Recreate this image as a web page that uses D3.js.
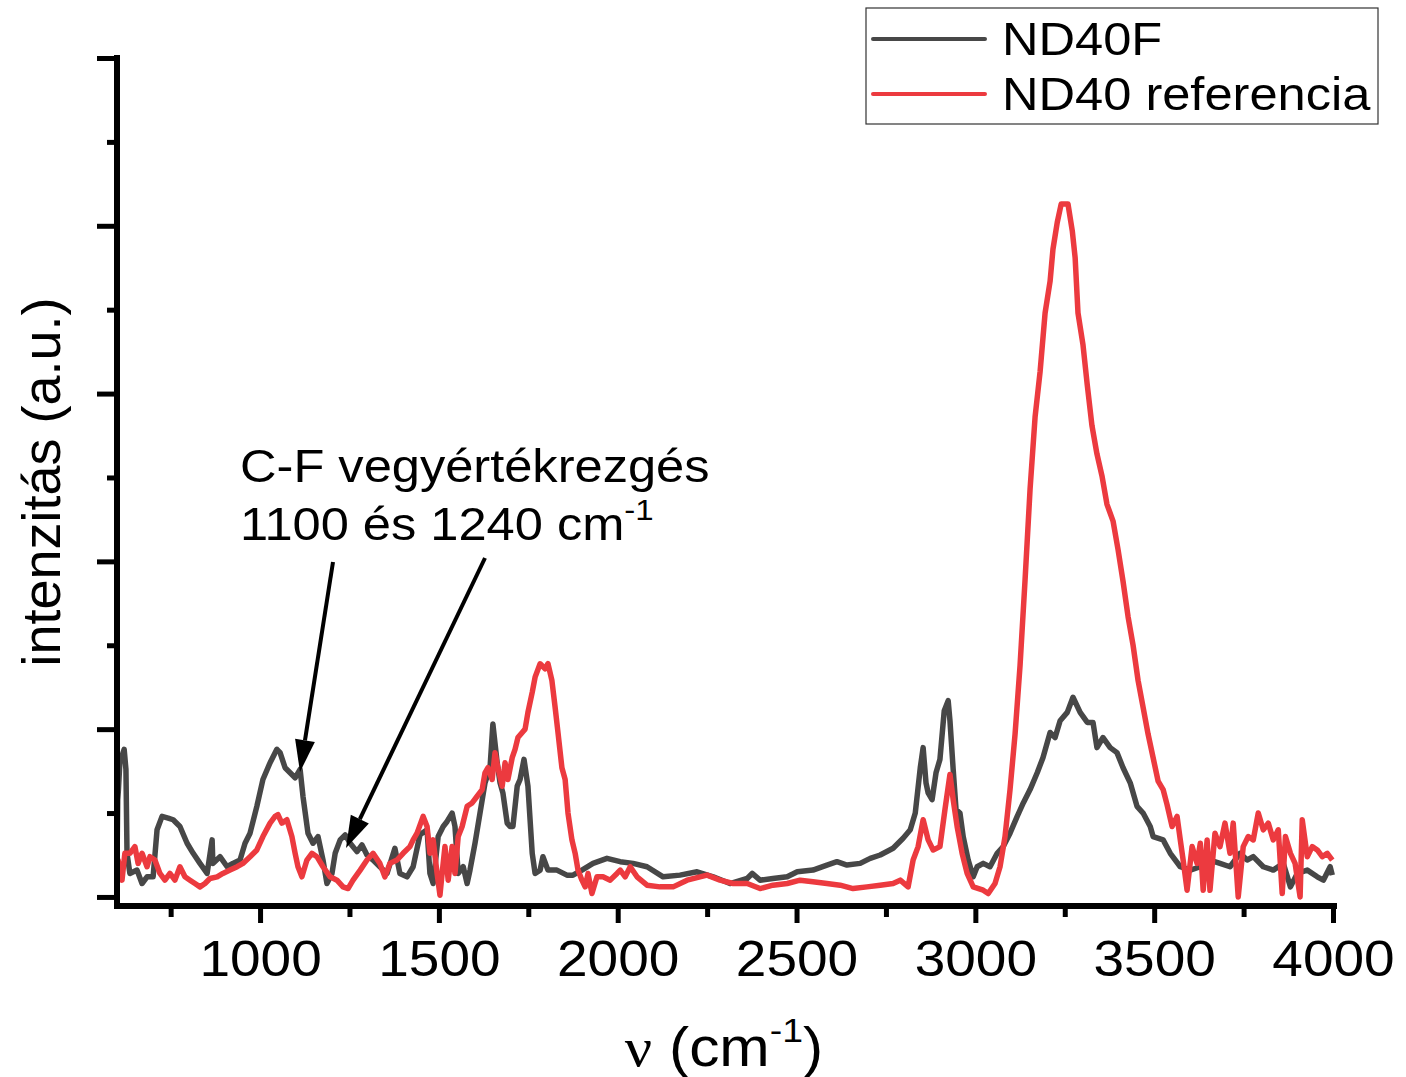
<!DOCTYPE html>
<html>
<head>
<meta charset="utf-8">
<script src="https://cdn.jsdelivr.net/npm/d3@7/dist/d3.min.js"></script>
<style>
  body { margin: 0; background: #fff; }
  text { font-family: Arial, "Liberation Sans", sans-serif; fill: #000; }
</style>
</head>
<body>
<div id="chart"></div>
<script>
// ===== data: [wavenumber (cm-1), intensity (a.u.)]
var nd40f = [
  [600,20],[602,58],[604,64],[608,80],[620,88],[625,76],[628,26],[636,14],[656,16],[670,8],[684,12],
  [701,12],[712,40],[726,48],[743,47],[757,46],[776,42],[796,32],[813,26],[832,20],[852,14],
  [866,34],[868,20],[888,24],[908,18],[924,20],[944,22],[958,32],[972,38],[991,54],[1008,70],
  [1028,80],[1047,88],[1056,86],[1070,77],[1084,74],[1098,71],[1112,76],[1120,60],[1134,38],[1148,32],
  [1162,36],[1176,22],[1187,8],[1201,14],[1210,26],[1224,34],[1238,37],[1252,32],[1271,27],[1285,31],
  [1299,25],[1316,22],[1335,18],[1355,14],[1377,29],[1391,14],[1411,12],[1428,18],[1447,37],[1467,40],
  [1475,14],[1484,8],[1498,36],[1512,42],[1523,45],[1537,50],[1545,42],[1554,14],[1568,18],[1579,8],
  [1587,16],[1601,32],[1615,50],[1629,68],[1643,77],[1651,103],[1663,80],[1671,68],[1679,62],[1691,44],
  [1699,42],[1707,42],[1719,66],[1727,70],[1738,82],[1749,66],[1761,26],[1769,14],[1783,16],[1791,24],
  [1805,16],[1830,16],[1858,13],[1875,13],[1900,16],[1931,20],[1970,23],[2007,21],[2043,20],[2082,18],
  [2127,12],[2174,13],[2222,15],[2267,12],[2314,8],[2362,11],[2376,14],[2398,10],[2434,11],[2474,12],
  [2502,15],[2546,16],[2585,19],[2613,21],[2641,19],[2678,20],[2706,23],[2734,25],[2770,29],[2798,35],
  [2818,40],[2832,50],[2846,77],[2854,89],[2862,68],[2868,62],[2879,58],[2890,74],[2901,82],[2913,111],
  [2924,117],[2929,105],[2938,76],[2946,52],[2957,50],[2966,36],[2980,22],[2994,12],[3005,18],[3022,20],
  [3041,18],[3061,26],[3078,30],[3097,38],[3117,48],[3134,56],[3153,64],[3173,74],[3189,83],[3209,98],
  [3223,95],[3237,105],[3257,110],[3273,119],[3293,110],[3313,104],[3329,104],[3340,89],[3357,95],[3377,89],
  [3396,86],[3413,77],[3433,68],[3452,54],[3469,50],[3489,42],[3497,36],[3525,34],[3545,26],[3573,18],
  [3601,16],[3629,18],[3656,22],[3684,20],[3712,18],[3740,26],[3760,22],[3777,24],[3805,18],[3833,16],
  [3861,20],[3881,6],[3900,14],[3928,16],[3956,12],[3973,10],[3992,18],[3998,13]
];

var nd40ref = [
  [600,16],[603,22],[614,10],[622,26],[636,26],[650,30],[659,20],[670,26],[684,18],[692,24],
  [706,22],[720,14],[734,10],[748,14],[762,10],[776,18],[790,12],[804,10],[818,8],[832,6],
  [846,8],[860,11],[880,12],[896,14],[916,16],[936,18],[952,20],[972,24],[991,28],[1008,36],
  [1028,44],[1042,48],[1050,49],[1061,44],[1075,46],[1089,36],[1098,26],[1106,18],[1117,12],[1131,22],
  [1145,26],[1159,24],[1176,18],[1196,12],[1215,10],[1232,6],[1246,5],[1260,10],[1280,16],[1299,22],
  [1316,26],[1335,20],[1349,12],[1363,20],[1383,22],[1400,26],[1419,30],[1428,34],[1439,38],[1456,48],
  [1467,42],[1475,26],[1484,34],[1495,14],[1503,1],[1509,14],[1517,30],[1526,10],[1537,30],[1545,14],
  [1554,36],[1565,42],[1579,54],[1593,56],[1607,60],[1621,64],[1629,74],[1637,77],[1649,70],[1657,86],
  [1665,77],[1677,66],[1685,80],[1693,70],[1705,83],[1713,88],[1721,95],[1733,98],[1741,100],[1749,110],
  [1761,122],[1769,131],[1783,139],[1797,136],[1805,139],[1816,129],[1825,113],[1833,98],[1844,77],[1853,70],
  [1861,50],[1872,34],[1881,26],[1889,16],[1900,10],[1909,6],[1917,14],[1928,2],[1942,12],[1959,12],
  [1979,10],[1998,14],[2007,16],[2021,12],[2035,18],[2054,12],[2082,7],[2118,6],[2155,6],[2194,10],
  [2230,12],[2250,13],[2286,10],[2323,8],[2362,8],[2398,5],[2434,7],[2474,8],[2510,10],[2546,9],
  [2585,8],[2622,7],[2658,5],[2697,6],[2734,7],[2770,8],[2790,10],[2812,6],[2826,22],[2840,30],
  [2854,46],[2868,34],[2882,28],[2901,30],[2915,52],[2929,73],[2938,58],[2949,42],[2963,26],[2977,14],
  [2994,6],[3022,4],[3036,2],[3055,8],[3069,18],[3083,36],[3097,64],[3111,97],[3125,138],[3139,189],
  [3153,243],[3167,286],[3181,313],[3195,348],[3209,367],[3217,386],[3229,402],[3240,413],[3259,413],[3271,397],
  [3279,381],[3287,348],[3301,329],[3313,305],[3326,281],[3340,264],[3354,251],[3368,234],[3385,224],[3399,207],
  [3413,188],[3427,167],[3441,150],[3455,129],[3469,113],[3483,97],[3497,83],[3511,69],[3525,64],[3536,55],
  [3550,42],[3564,48],[3573,34],[3581,22],[3592,4],[3606,30],[3620,20],[3629,32],[3637,4],[3648,34],
  [3656,4],[3670,38],[3684,30],[3698,44],[3712,26],[3721,44],[3735,0],[3749,30],[3763,36],[3777,34],
  [3791,50],[3805,40],[3819,44],[3833,34],[3847,40],[3858,2],[3867,36],[3881,26],[3894,20],[3908,0],
  [3914,46],[3928,24],[3942,30],[3956,28],[3970,24],[3984,26],[3998,22]
];

var seriesNames = ["ND40F", "ND40 referencia"];
var seriesColors = ["#474747", "#ec3a3f"];
var xMajorTicks = [1000, 1500, 2000, 2500, 3000, 3500, 4000];
var xMinorTicks = [750, 1250, 1750, 2250, 2750, 3250, 3750];
var yMajorTicks = [0, 100, 200, 300, 400, 500];
var yMinorTicks = [50, 150, 250, 350, 450];

// ===== svg
var svgWidth = 1406;
var svgHeight = 1077;
var stretch = "scale(1.1,1)";

var svg = d3.select("#chart").append("svg")
    .attr("width", svgWidth)
    .attr("height", svgHeight);

var x = d3.scaleLinear().domain([600, 4000]).range([117, 1333]);
var y = d3.scaleLinear().domain([-5.4, 500]).range([906, 58]);

// ===== lines
var line = d3.line()
    .x(d => x(d[0]))
    .y(d => y(d[1]));

[nd40f, nd40ref].forEach(function(s, i) {
  svg.append("path")
      .datum(s)
      .attr("fill", "none")
      .attr("stroke", seriesColors[i])
      .attr("stroke-width", 5.5)
      .attr("stroke-linejoin", "round")
      .attr("d", line);
});

// ===== axes
var xMajor = svg.append("g")
    .attr("transform", "translate(0,906)")
    .call(d3.axisBottom(x).tickValues(xMajorTicks).tickSize(17).tickFormat(d3.format("d")));
var xMinor = svg.append("g")
    .attr("transform", "translate(0,906)")
    .call(d3.axisBottom(x).tickValues(xMinorTicks).tickSize(11).tickFormat(""));
var yMajor = svg.append("g")
    .attr("transform", "translate(117,0)")
    .call(d3.axisLeft(y).tickValues(yMajorTicks).tickSize(20).tickFormat(""));
var yMinor = svg.append("g")
    .attr("transform", "translate(117,0)")
    .call(d3.axisLeft(y).tickValues(yMinorTicks).tickSize(10).tickFormat(""));

svg.selectAll(".domain").remove();
svg.selectAll(".tick line").attr("stroke", "#000").attr("stroke-width", 5);

xMajor.selectAll("text")
    .attr("y", 0)
    .attr("dy", 0)
    .attr("transform", "translate(0,70) " + stretch)
    .style("font-size", "50px")
    .style("font-family", "Arial, 'Liberation Sans', sans-serif")
    .attr("fill", "#000");

svg.append("line")
    .attr("x1", 117).attr("x2", 117)
    .attr("y1", 55).attr("y2", 909)
    .attr("stroke", "#000").attr("stroke-width", 6);
svg.append("line")
    .attr("x1", 114).attr("x2", 1337)
    .attr("y1", 906).attr("y2", 906)
    .attr("stroke", "#000").attr("stroke-width", 6);

// ===== axis titles
var xTitle = svg.append("text")
    .attr("transform", "translate(724,1066) " + stretch)
    .attr("text-anchor", "middle")
    .style("font-size", "55px");
xTitle.append("tspan").style("font-family", "'Liberation Serif', serif").text("ν");
xTitle.append("tspan").text(" (cm");
xTitle.append("tspan").attr("dy", -24).style("font-size", "34px").text("-1");
xTitle.append("tspan").attr("dy", 24).text(")");

svg.append("text")
    .attr("transform", "translate(60,482) rotate(-90)")
    .attr("text-anchor", "middle")
    .style("font-size", "54px")
    .text("intenzitás (a.u.)");

// ===== annotation
svg.append("text")
    .attr("transform", "translate(240,482) " + stretch)
    .style("font-size", "46px")
    .text("C-F vegyértékrezgés");
var ann2 = svg.append("text")
    .attr("transform", "translate(240,540) " + stretch)
    .style("font-size", "46px");
ann2.append("tspan").text("1100 és 1240 cm");
ann2.append("tspan").attr("dy", -20).style("font-size", "30px").text("-1");

function arrow(x1, y1, x2, y2) {
  var dx = x2 - x1, dy = y2 - y1;
  var len = Math.sqrt(dx * dx + dy * dy);
  var ux = dx / len, uy = dy / len;
  var head = 32, half = 10;
  var bx = x2 - ux * head, by = y2 - uy * head;
  svg.append("line")
      .attr("x1", x1).attr("y1", y1)
      .attr("x2", bx).attr("y2", by)
      .attr("stroke", "#000").attr("stroke-width", 4);
  svg.append("polygon")
      .attr("points", [[x2, y2], [bx - uy * half, by + ux * half], [bx + uy * half, by - ux * half]]
        .map(p => p.join(",")).join(" "))
      .attr("fill", "#000");
}
arrow(333, 562, 300, 772);
arrow(485, 558, 346, 848);

// ===== legend
var legend = svg.append("g");
legend.append("rect")
    .attr("x", 866).attr("y", 8)
    .attr("width", 512).attr("height", 116)
    .attr("fill", "#fff")
    .attr("stroke", "#333")
    .attr("stroke-width", 1.2);

seriesNames.forEach(function(name, i) {
  var ly = 39 + i * 55;
  legend.append("line")
      .attr("x1", 873).attr("x2", 985)
      .attr("y1", ly).attr("y2", ly)
      .attr("stroke", seriesColors[i])
      .attr("stroke-width", 4)
      .attr("stroke-linecap", "round");
  legend.append("text")
      .attr("transform", "translate(1002," + (ly + 16) + ") " + stretch)
      .style("font-size", "46px")
      .text(name);
});
</script>
</body>
</html>
